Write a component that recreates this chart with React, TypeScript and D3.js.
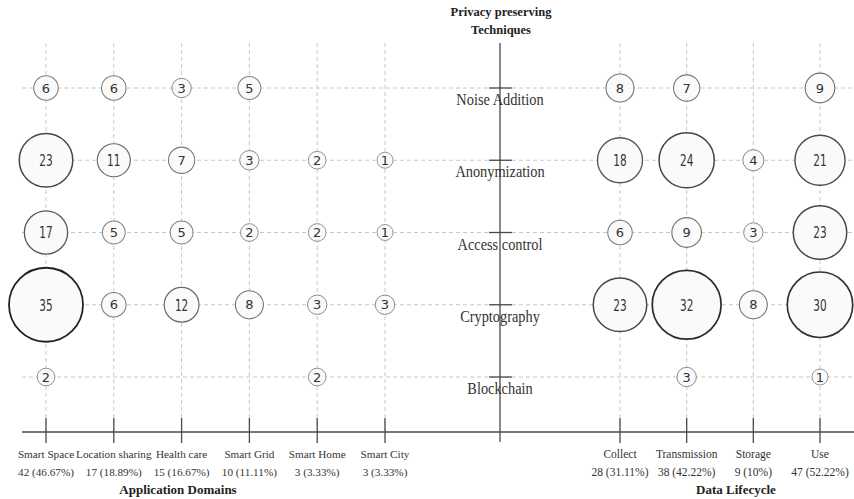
import React from "react";
import * as d3 from "d3";

const techniques = ["Noise Addition", "Anonymization", "Access control", "Cryptography", "Blockchain"];
const domains = ["Smart Space", "Location sharing", "Health care", "Smart Grid", "Smart Home", "Smart City"];
const domainTotals = ["42 (46.67%)", "17 (18.89%)", "15 (16.67%)", "10 (11.11%)", "3 (3.33%)", "3 (3.33%)"];
const lifecycle = ["Collect", "Transmission", "Storage", "Use"];
const lifecycleTotals = ["28 (31.11%)", "38 (42.22%)", "9 (10%)", "47 (52.22%)"];

// rows = techniques, columns = domains
const domainCounts: (number | null)[][] = [
  [6, 6, 3, 5, null, null],
  [23, 11, 7, 3, 2, 1],
  [17, 5, 5, 2, 2, 1],
  [35, 6, 12, 8, 3, 3],
  [2, null, null, null, 2, null],
];
// rows = techniques, columns = lifecycle
const lifecycleCounts: (number | null)[][] = [
  [8, 7, null, 9],
  [18, 24, 4, 21],
  [6, 9, 3, 23],
  [23, 32, 8, 30],
  [null, 3, null, 1],
];

const W = 854;
const H = 499;
const axisY = 432;
const centerX = 500;
const gridLeft = 22;
const gridTop = 43;

export default function App() {
  const y = d3.scalePoint<string>().domain(techniques).range([88, 377]);
  const xL = d3.scalePoint<string>().domain(domains).range([46, 385]);
  const xR = d3.scalePoint<string>().domain(lifecycle).range([620, 820]);
  const r = d3.scaleLinear().domain([1, 35]).range([8, 37]);
  const strokeCol = d3.scaleLinear<string>().domain([1, 35]).range(["#8a8a8a", "#222222"]).clamp(true);
  const strokeW = d3.scaleLinear().domain([1, 35]).range([0.9, 1.8]);

  const bubbles: { x: number; y: number; v: number; key: string }[] = [];
  techniques.forEach((t, i) => {
    domains.forEach((d, j) => {
      const v = domainCounts[i][j];
      if (v != null) bubbles.push({ x: xL(d)!, y: y(t)!, v, key: `L-${t}-${d}` });
    });
    lifecycle.forEach((d, j) => {
      const v = lifecycleCounts[i][j];
      if (v != null) bubbles.push({ x: xR(d)!, y: y(t)!, v, key: `R-${t}-${d}` });
    });
  });

  const serif = "'Liberation Serif', 'Times New Roman', serif";
  const cols = [...domains.map((d) => xL(d)!), ...lifecycle.map((d) => xR(d)!)];

  return (
    <svg width={W} height={H} style={{ position: "absolute", left: 0, top: 0, background: "#fff" }}>
      {/* grid */}
      <g stroke="#c8c8c8" strokeWidth={1} strokeDasharray="4,3">
        {techniques.map((t) => (
          <line key={t} x1={gridLeft} x2={W} y1={y(t)} y2={y(t)} />
        ))}
        {cols.map((cx, i) => (
          <line key={i} x1={cx} x2={cx} y1={gridTop} y2={axisY} />
        ))}
      </g>

      {/* axes */}
      <g stroke="#4a4a4a" strokeWidth={1.3}>
        <line x1={gridLeft} x2={W} y1={axisY} y2={axisY} />
        <line x1={centerX} x2={centerX} y1={gridTop} y2={axisY + 10} />
        {cols.map((cx, i) => (
          <line key={i} x1={cx} x2={cx} y1={axisY - 14} y2={axisY + 11} />
        ))}
        {techniques.map((t) => (
          <line key={t} x1={centerX - 11} x2={centerX + 12} y1={y(t)} y2={y(t)} />
        ))}
      </g>

      {/* row labels */}
      {techniques.map((t) => (
        <text
          key={t}
          transform={`translate(${centerX},${y(t)! + 17}) scale(0.87,1)`}
          textAnchor="middle"
          fontFamily={serif}
          fontSize={16.5}
          fill="#333"
        >
          {t}
        </text>
      ))}

      {/* bubbles */}
      {bubbles.map((b) => (
        <g key={b.key}>
          <circle cx={b.x} cy={b.y} r={r(b.v)} fill="#fafafa" stroke={strokeCol(b.v)} strokeWidth={strokeW(b.v)} />
          <text
            x={b.x}
            y={b.y}
            dy="0.36em"
            textAnchor="middle"
            fontFamily="'DejaVu Sans', sans-serif"
            fontSize={b.v >= 10 ? 14 : 13}
            fill="#333"
            transform={b.v >= 10 ? `translate(${b.x},${b.y}) scale(0.75,1.15) translate(${-b.x},${-b.y})` : undefined}
          >
            {b.v}
          </text>
        </g>
      ))}

      {/* column labels */}
      {domains.map((d, j) => (
        <g key={d} fontFamily={serif} fontSize={11.2} fill="#333" textAnchor="middle">
          <text x={xL(d)} y={458}>{d}</text>
          <text x={xL(d)} y={476}>{domainTotals[j]}</text>
        </g>
      ))}
      {lifecycle.map((d, j) => (
        <g key={d} fontFamily={serif} fontSize={11.5} fill="#333" textAnchor="middle">
          <text x={xR(d)} y={458}>{d}</text>
          <text x={xR(d)} y={476}>{lifecycleTotals[j]}</text>
        </g>
      ))}

      {/* titles */}
      <g fontFamily={serif} fontWeight="bold" fontSize={13} fill="#222" textAnchor="middle">
        <text x={178} y={494}>Application Domains</text>
        <text x={736} y={494}>Data Lifecycle</text>
        <text x={centerX + 1} y={16} fontSize={12.5}>Privacy preserving</text>
        <text x={centerX + 1} y={34} fontSize={12.5}>Techniques</text>
      </g>
    </svg>
  );
}
